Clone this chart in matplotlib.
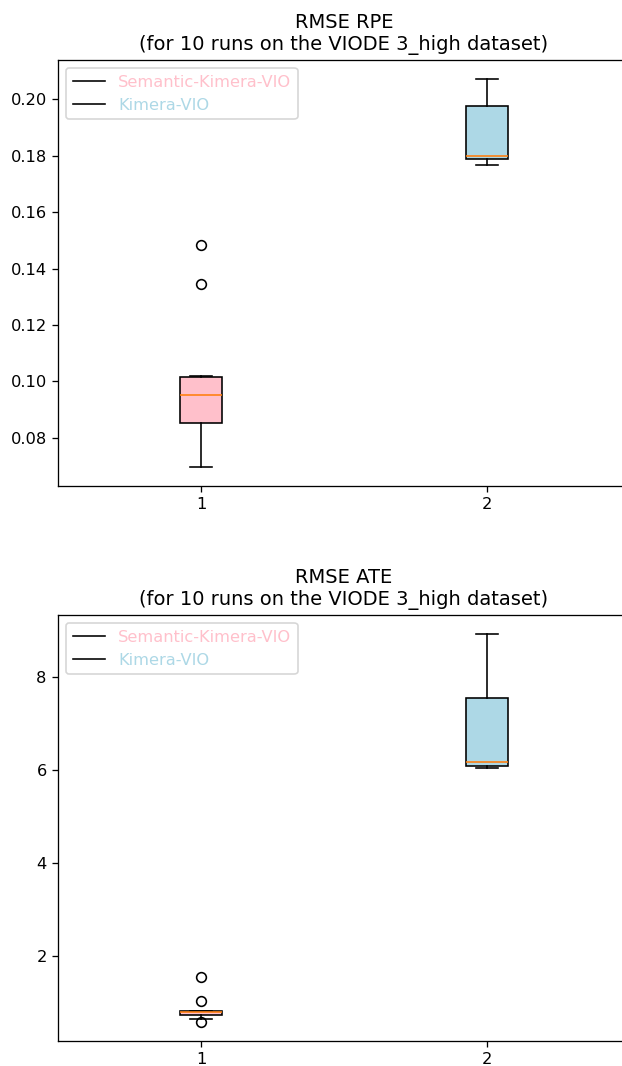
import matplotlib
matplotlib.use("Agg")
import matplotlib.pyplot as plt
from matplotlib.lines import Line2D

labels = ["Semantic-Kimera-VIO", "Kimera-VIO"]
colors = ["pink", "lightblue"]

rpe_semantic = [0.0698, 0.0790, 0.0845, 0.0877, 0.0930, 0.0976, 0.1008, 0.1020, 0.1347, 0.1482]
rpe_kimera = [0.1766, 0.1775, 0.1785, 0.1793, 0.1795, 0.1807, 0.1880, 0.2007, 0.2040, 0.2071]

ate_semantic = [0.58, 0.63, 0.71, 0.75, 0.77, 0.79, 0.795, 0.805, 1.02, 1.55]
ate_kimera = [6.04, 6.06, 6.08, 6.12, 6.15, 6.19, 7.00, 7.733, 8.30, 8.93]

titles = ["RMSE RPE\n(for 10 runs on the VIODE 3_high dataset)",
          "RMSE ATE\n(for 10 runs on the VIODE 3_high dataset)"]
datasets = [[rpe_semantic, rpe_kimera], [ate_semantic, ate_kimera]]

W, H = 622, 1066
DPI = 116.67
fig = plt.figure(figsize=(W / DPI, H / DPI), dpi=DPI)
positions = [(58, 60, 630, 486), (58, 615, 630, 1041)]

for (l, t, r, b), data, title in zip(positions, datasets, titles):
    ax = fig.add_axes([l / W, 1 - b / H, (r - l) / W, (b - t) / H])
    bp = ax.boxplot(data, patch_artist=True)
    for patch, c in zip(bp['boxes'], colors):
        patch.set_facecolor(c)
    ax.set_title(title)
    handles = [Line2D([], [], color='black', lw=1.0), Line2D([], [], color='black', lw=1.0)]
    leg = ax.legend(handles, labels, loc='upper left')
    for txt, c in zip(leg.get_texts(), colors):
        txt.set_color(c)

fig.savefig("out.png", dpi=DPI)
